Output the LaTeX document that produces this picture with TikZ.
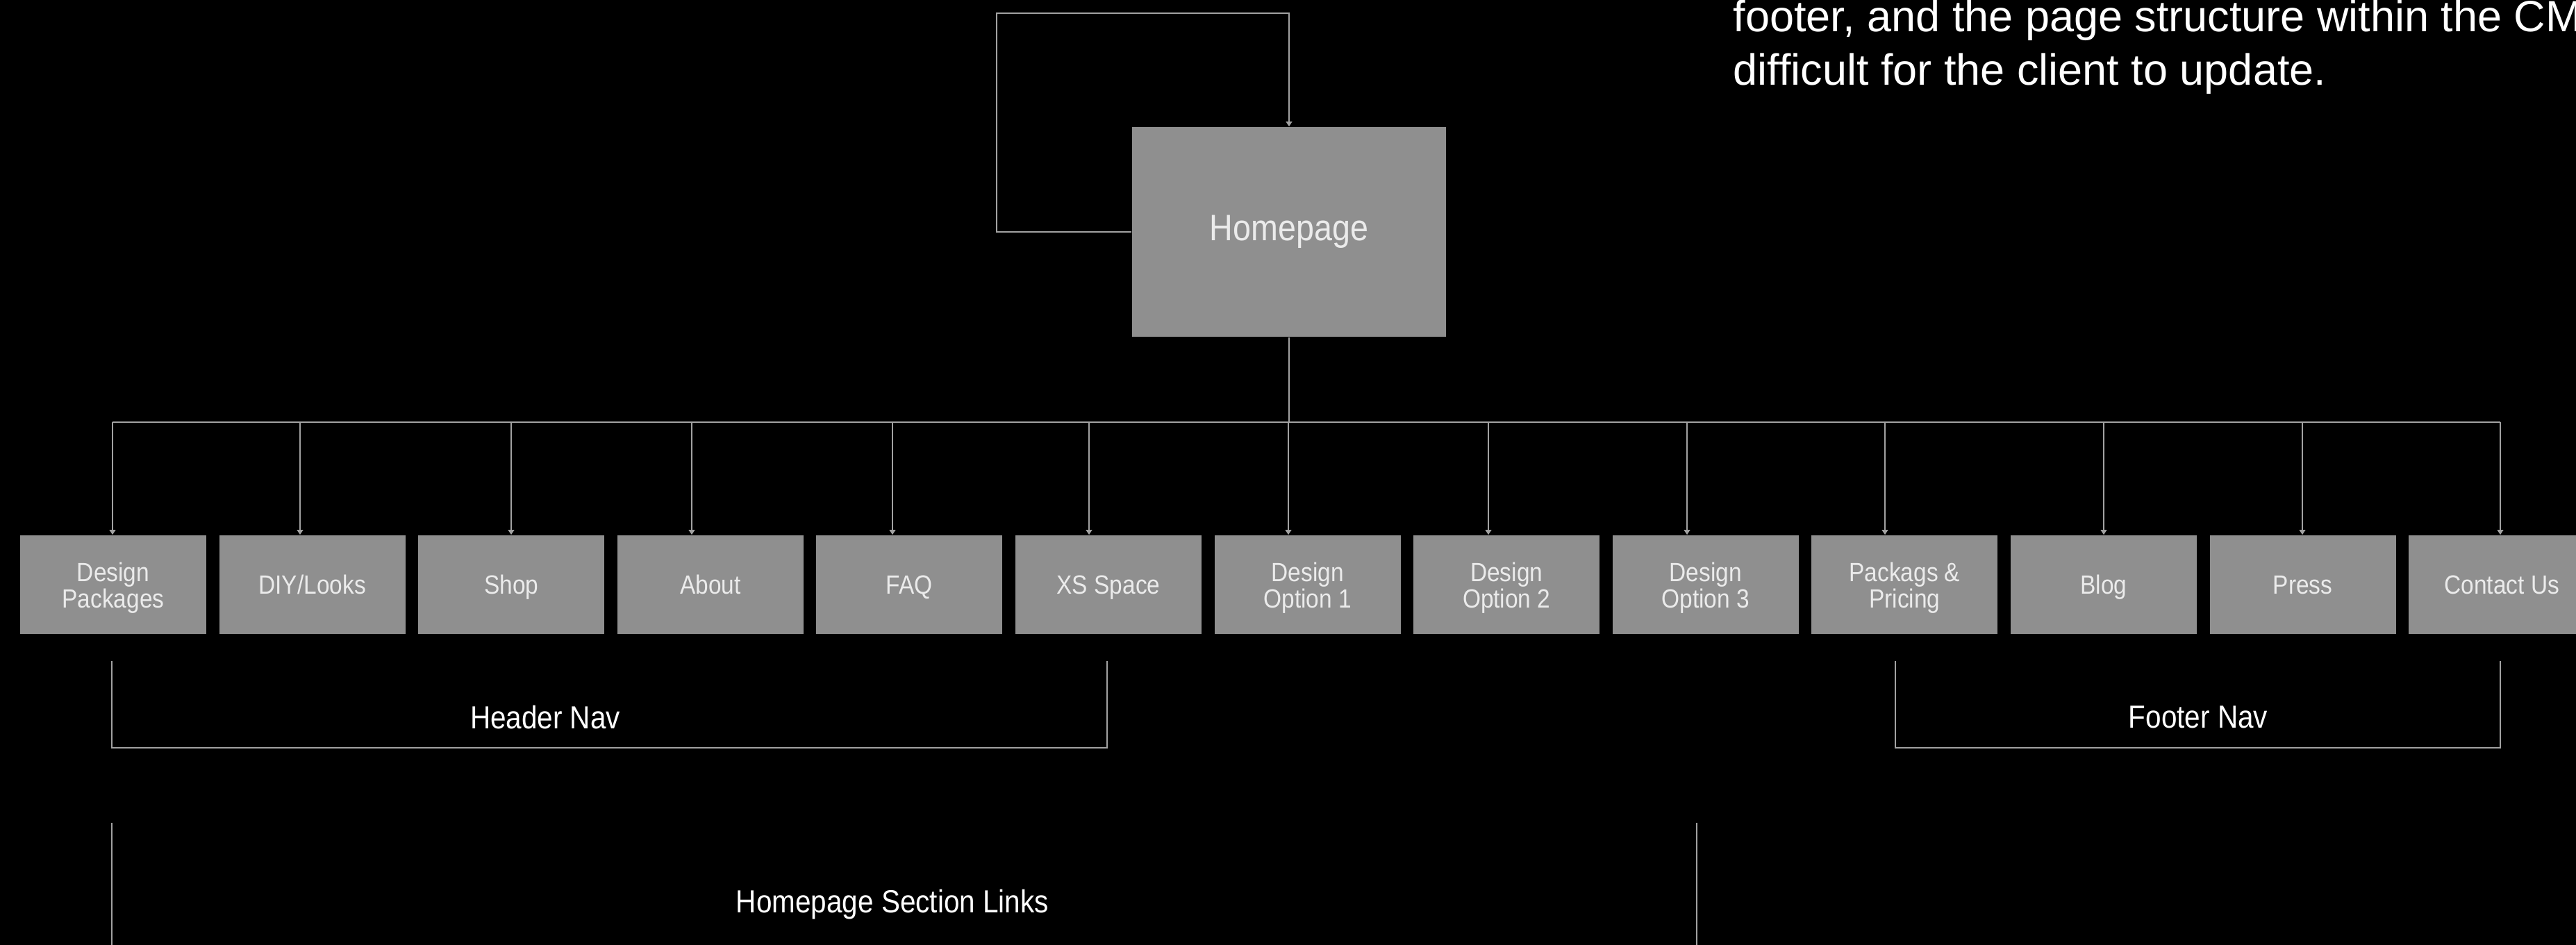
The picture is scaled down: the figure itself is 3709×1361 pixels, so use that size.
\documentclass[tikz,border=0pt]{standalone}
\usepackage{fontspec}
\setmainfont{Liberation Sans}
\newfontfamily\condf[FakeStretch=0.88]{Liberation Sans}
\usetikzlibrary{arrows.meta}
\definecolor{boxgray}{HTML}{8F8F8F}
\definecolor{linegray}{HTML}{A2A2A2}
\definecolor{txtw}{HTML}{EBEBEB}
\begin{document}
\begin{tikzpicture}[x=0.25pt,y=-0.25pt,
  pagebox/.style={fill=boxgray, draw=none, inner sep=0pt, minimum width=67pt,
    minimum height=35.5pt, text=txtw, align=center,
    font=\condf\fontsize{9.5pt}{9.5pt}\selectfont},
  oneline/.style={text height=6.8pt, text depth=0pt},
  twoline/.style={yshift=-1.2pt},
  homebox/.style={fill=boxgray, draw=none, inner sep=0pt, minimum width=113pt,
    minimum height=75.5pt, text=txtw, font=\condf\fontsize{13.25pt}{13.25pt}\selectfont},
  lbl/.style={text=white, inner sep=0pt, font=\condf\fontsize{11.5pt}{11.5pt}\selectfont},
  note/.style={text=white, inner sep=0pt, anchor=base west, font=\fontsize{15.75pt}{19pt}\selectfont},
  ln/.style={draw=linegray, line width=0.6pt},
  brk/.style={draw=linegray, line width=0.7pt},
  arr/.style={ln, -{Triangle[width=2.2pt,length=1.8pt]}}]
\useasboundingbox (0,0) rectangle (3709,1361);
\fill[black] (0,0) rectangle (3709,1361);
\clip (0,0) rectangle (3709,1361);

% note text (top right)
\node[note] (n1) at (2495,45) {footer, and the page structure within the CM};
\node[note] (n2) at (2495,122) {difficult for the client to update.};

% homepage
\node[homebox] (hp) at (1856,334) {Homepage};
\coordinate (lp) at (1435,19);
\draw[arr] (hp.west) -| (lp) -| (hp.north);

% page boxes
\node[pagebox] (b0)  at (163,842)    {}; \node[pagebox,fill=none,twoline] at (b0) {Design\\Packages};
\node[pagebox,oneline] (b1)  at (449.6,842)  {DIY/Looks};
\node[pagebox,oneline] (b2)  at (736.2,842)  {Shop};
\node[pagebox,oneline] (b3)  at (1022.8,842) {About};
\node[pagebox,oneline] (b4)  at (1309.4,842) {FAQ};
\node[pagebox,oneline] (b5)  at (1596,842)   {XS Space};
\node[pagebox] (b6)  at (1882.6,842) {}; \node[pagebox,fill=none,twoline] at (b6) {Design\\Option 1};
\node[pagebox] (b7)  at (2169.2,842) {}; \node[pagebox,fill=none,twoline] at (b7) {Design\\Option 2};
\node[pagebox] (b8)  at (2455.8,842) {}; \node[pagebox,fill=none,twoline] at (b8) {Design\\Option 3};
\node[pagebox] (b9)  at (2742.4,842) {}; \node[pagebox,fill=none,twoline] at (b9) {Packags \&\\Pricing};
\node[pagebox,oneline] (b10) at (3029,842)   {Blog};
\node[pagebox,oneline] (b11) at (3315.6,842) {Press};
\node[pagebox,oneline] (b12) at (3602.2,842) {Contact Us};

% bus
\coordinate (busL) at (162,608);
\coordinate (busR) at (3600,608);
\draw[ln] (busL) -- (busR);
\draw[ln] (hp.south) -- (hp.south |- busL);

\foreach \i/\ax in {0/162,1/432,2/736,3/996,4/1285,5/1568,6/1855,7/2143,8/2429,9/2714,10/3029,11/3315,12/3600}{
  \coordinate (t\i) at (\ax,608);
  \draw[arr] (t\i) -- (t\i |- b\i.north);
}

% header nav bracket
\coordinate (h1) at (161,952);
\coordinate (h2) at (1594,952);
\draw[brk] (h1) |- (1594,1077) -- (h2);
\node[lbl] (hn) at (785,1033) {Header Nav};

% footer nav bracket
\coordinate (f1) at (2729,952);
\coordinate (f2) at (3600,952);
\draw[brk] (f1) |- (3600,1077) -- (f2);
\node[lbl] (fn) at (3165,1033) {Footer Nav};

% homepage section links
\coordinate (s1) at (161,1185);
\coordinate (s2) at (2443,1185);
\draw[brk] (s1) -- (161,1400);
\draw[brk] (s2) -- (2443,1400);
\node[lbl] (sl) at (1285,1303) {Homepage Section Links};
\end{tikzpicture}
\end{document}
